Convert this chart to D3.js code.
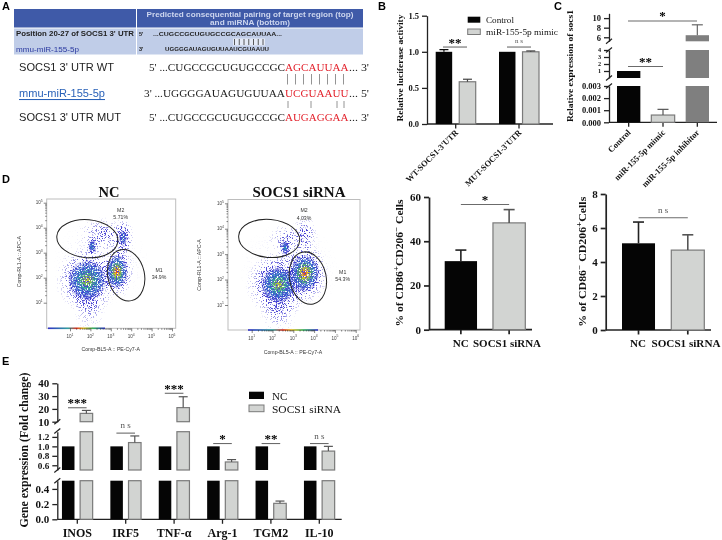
<!DOCTYPE html>
<html><head><meta charset="utf-8">
<script src="https://cdn.jsdelivr.net/npm/d3@7"></script>
<style>
html,body{margin:0;padding:0;background:#fff}
svg{display:block;filter:blur(0.35px)}
text{fill:#111}
</style></head><body>
<svg id="c" width="722" height="540" viewBox="0 0 722 540"></svg>
<script>
// ---------- DATA ----------
const bGroups = ["WT-SOCS1-3'UTR","MUT-SOCS1-3'UTR"];
const bSeries = ["Control","miR-155-5p mimic"];
const bControl = [1.0,1.0], bControlErr = [1.03,1.0];
const bMimic = [0.585,1.0], bMimicErr = [0.62,1.012];
const bTicks = [0,0.5,1,1.5];

const cCats = ["Control","miR-155-5p mimic","miR-155-5p inhibitor"];
const cValues = [1.0,0.0006,6.43];
const cErrs = [1.0,0.00107,8.6];
const cTicksLow = [0,0.001,0.002,0.003], cTicksMid=[1,2,3,4], cTicksTop=[6,8,10];

const dCats = ["NC","SOCS1 siRNA"];
const dM1 = [31,48.3], dM1Err=[36,54.3], dM1Ticks=[0,20,40,60];
const dM2 = [5.1,4.7], dM2Err=[6.35,5.6], dM2Ticks=[0,2,4,6,8];

const eGenes = ["INOS","IRF5","TNF-α","Arg-1","TGM2","IL-10"];
const eNC = [1,1,1,1,1,1];
const eSi = [16.5,1.08,21,0.67,0.21,0.9];
const eSiErr = [18.8,1.22,29.5,0.72,0.24,1.0];
const eSig = ["***","ns","***","*","**","ns"];
const eSigLevel = [20.9,1.28,32.2,1.06,1.06,1.06];
const eTicksLow=[0,0.2,0.4], eTicksMid=[0.6,0.8,1.0,1.2], eTicksTop=[10,20,30,40];

const seqWT = ["5' ...CUGCCGCUGUGCCGC","AGCAUUAA","... 3'"];
const seqMiR = ["3' ...UGGGGAUAGUGUUAA","UCGUAAUU","... 5'"];
const seqMUT = ["5' ...CUGCCGCUGUGCCGC","AUGAGGAA","... 3'"];

// flow clusters: log10 x, log10 y, spread x, spread y (decades), rotation, density, heat level, core fraction
const flowNC = [
 [1.85,1.9,1.6,1.35,0,0.95,2,0.6],
 [1.95,1.2,0.9,1.5,0,0.4,0,0],
 [3.3,2.25,0.85,1.1,0,1,3,0.62],
 [2.1,3.25,0.3,0.4,0,1,1,0.7],
 [3.6,3.6,0.55,0.85,0,0.75,1,0.4],
 [2.6,3.75,1.3,0.7,0,0.42,0,0],
 [2.5,2.6,2.4,1.8,0,0.1,0,0]
];
const flowSi = [
 [2.3,1.8,1.6,1.3,-10,1,2,0.55],
 [2.3,1.0,1.0,1.3,0,0.4,0,0],
 [3.55,2.25,1.15,1.2,0,1,3,0.62],
 [2.6,3.25,0.34,0.42,0,1,1,0.7],
 [3.55,3.75,0.65,0.85,0,0.5,0,0],
 [2.7,3.6,1.0,0.65,0,0.35,0,0],
 [2.8,2.4,2.5,1.9,0,0.08,0,0]
];
const decades=[1,2,3,4,5,6], yDecades=[1,2,3,4,5];

// ---------- HELPERS ----------
const SERIF="'Liberation Serif','Times New Roman',serif", SANS="'Liberation Sans',Arial,sans-serif";
const svg=d3.select("#c");
const defs=svg.append("defs");
const BLACK="#050505", LIGHT="#d2d4d2", EDGE="#7a7a7a", MID="#7f7f7f", LINE="#6b6b6b", AXIS="#222";

function txt(x,y,s,o={}){
  const t=svg.append("text").attr("x",x).attr("y",y).attr("dominant-baseline","central")
    .attr("font-family",o.font||SERIF).attr("font-size",o.size||9).attr("font-weight",o.weight||"normal")
    .attr("text-anchor",o.anchor||"start").style("fill",o.fill||"#111").text(s);
  if(o.len) t.attr("textLength",o.len).attr("lengthAdjust","spacingAndGlyphs");
  if(o.rot!==undefined) t.attr("transform",`rotate(${o.rot} ${x} ${y})`);
  if(o.ul) t.attr("text-decoration","underline");
  return t;
}
function panelLetter(x,y,s){txt(x,y,s,{font:SANS,size:11,weight:"bold",fill:"#000"})}
function seg(domain,range){return d3.scaleLinear().domain(domain).range(range)}
function yAxis(g,scale,ticks,fmt,size,w,sw=1.3){
  const ax=d3.axisLeft(scale).tickValues(ticks).tickFormat(fmt).tickSize(5).tickSizeOuter(0).tickPadding(3);
  const n=g.append("g").attr("transform",`translate(${w},0)`).call(ax);
  n.selectAll("path,line").attr("stroke",AXIS).attr("stroke-width",sw);
  n.selectAll("text").attr("font-family",SERIF).attr("font-size",size).attr("font-weight","bold").style("fill","#111");
}
function baseline(x0,x1,y,ticks,sw=1.3){
  svg.append("line").attr("x1",x0).attr("x2",x1).attr("y1",y).attr("y2",y).attr("stroke",AXIS).attr("stroke-width",sw);
  ticks.forEach(t=>svg.append("line").attr("x1",t).attr("x2",t).attr("y1",y).attr("y2",y+4.5).attr("stroke",AXIS).attr("stroke-width",sw));
}
function slash(x,y){svg.append("line").attr("x1",x-3).attr("x2",x+3).attr("y1",y+2.5).attr("y2",y-2.5).attr("stroke",AXIS).attr("stroke-width",1.2)}
function brokenBar(segs,xl,w,v,fill,stroke){
  segs.forEach(s=>{
    const [d0,d1]=s.domain();
    if(v<=d0) return;
    const top=s(Math.min(v,d1)),bot=s(d0);
    svg.append("rect").attr("x",xl).attr("y",top).attr("width",w).attr("height",bot-top)
      .attr("fill",fill).attr("stroke",stroke).attr("stroke-width",stroke=="none"?0:1.2);
  });
}
function segFor(segs,v){return segs.find(s=>v>=s.domain()[0]&&v<=s.domain()[1])||segs[segs.length-1]}
function errBar(segs,cx,v,e,col,cap,sw=1.2){
  if(e<=v) return;
  const s=segFor(segs,e), y0=segFor(segs,v)(v), y1=s(e);
  svg.append("line").attr("x1",cx).attr("x2",cx).attr("y1",y0).attr("y2",y1).attr("stroke",col).attr("stroke-width",sw);
  svg.append("line").attr("x1",cx-cap).attr("x2",cx+cap).attr("y1",y1).attr("y2",y1).attr("stroke",col).attr("stroke-width",sw);
}
function sig(x0,x1,y,label,nsSize=7,nsUp=8){
  svg.append("line").attr("x1",x0).attr("x2",x1).attr("y1",y).attr("y2",y).attr("stroke",LINE).attr("stroke-width",1.1);
  const cx=(x0+x1)/2;
  if(label=="ns") txt(cx,y-nsUp,"n s",{size:nsSize,anchor:"middle",fill:"#555"});
  else txt(cx,y-5,label,{size:13,weight:"bold",anchor:"middle",fill:"#000"});
}
function legendSwatch(x,y,w,h,fill,stroke){
  svg.append("rect").attr("x",x).attr("y",y).attr("width",w).attr("height",h).attr("fill",fill)
    .attr("stroke",stroke).attr("stroke-width",stroke=="none"?0:1);
}

// ---------- PANEL A ----------
panelLetter(2,6,"A");
svg.append("rect").attr("x",14).attr("y",9).attr("width",349).attr("height",18.5).attr("fill","#3f5aa8");
svg.append("rect").attr("x",14).attr("y",28.5).attr("width",349).attr("height",26).attr("fill","#c0cde8");
svg.append("rect").attr("x",136).attr("y",9).attr("width",1).attr("height",46).attr("fill","#fff");
svg.append("rect").attr("x",233).attr("y",38.5).attr("width",32).attr("height",7).attr("fill","#e4eaf6");
txt(250,14,"Predicted consequential pairing of target region (top)",{font:SANS,size:7.4,weight:"bold",anchor:"middle",fill:"#cdd6ef",len:207});
txt(250,22.5,"and miRNA (bottom)",{font:SANS,size:7.4,weight:"bold",anchor:"middle",fill:"#cdd6ef",len:80});
txt(16,33.5,"Position 20-27 of SOCS1 3' UTR",{font:SANS,size:7,weight:"bold",fill:"#222",len:118});
txt(16,49,"mmu-miR-155-5p",{font:SANS,size:7,fill:"#2b3aa0",len:63});
txt(139,33.5,"5'",{font:SANS,size:5.5,weight:"bold",fill:"#222"});
txt(139,49,"3'",{font:SANS,size:5.5,weight:"bold",fill:"#222"});
txt(153,33.5,"...CUGCCGCUGUGCCGCAGCAUUAA...",{font:SANS,size:5.5,weight:"bold",fill:"#222",len:129});
txt(165,49,"UGGGGAUAGUGUUAAUCGUAAUU",{font:SANS,size:5.5,weight:"bold",fill:"#222",len:104});
d3.range(7).forEach(i=>{const x=234.5+i*4.75;svg.append("line").attr("x1",x).attr("x2",x).attr("y1",39).attr("y2",45).attr("stroke","#333").attr("stroke-width",.8)});

function seqRow(y,label,seq,x0,o){
  txt(19,y,label,{font:SANS,size:10.5,fill:o.fill||"#222",len:o.len,ul:o.ul});
  txt(x0,y,seq[0],{size:10.5,fill:"#222",len:285-x0});
  txt(285,y,seq[1],{size:10.5,fill:"#e3222c",len:63.5});
  txt(349,y,seq[2],{size:10.5,fill:"#222",len:20});
}
seqRow(67,"SOCS1 3' UTR WT",seqWT,149,{len:95});
seqRow(93,"mmu-miR-155-5p",seqMiR,144,{len:86,ul:true,fill:"#2a62b8"});
seqRow(117,"SOCS1 3' UTR MUT",seqMUT,149,{len:102});
d3.range(8).forEach(i=>{const x=287.5+i*8;svg.append("line").attr("x1",x).attr("x2",x).attr("y1",74).attr("y2",84.5).attr("stroke","#888").attr("stroke-width",.9)});
[288,311,337,344].forEach(x=>svg.append("line").attr("x1",x).attr("x2",x).attr("y1",101).attr("y2",108).attr("stroke","#888").attr("stroke-width",.9));

// ---------- PANEL B ----------
panelLetter(378,6,"B");
const by=seg([0,1.5],[124,15.7]);
const bx=d3.scalePoint().domain(bGroups).range([455.7,519]);
const bIn=d3.scaleBand().domain(bSeries).range([-20,20]).paddingInner(.3);
yAxis(svg,by,bTicks,d3.format(".1f"),8.5,427);
baseline(427,553,124,bGroups.map(g=>bx(g)));
bGroups.forEach((g,i)=>{
  const xa=bx(g)+bIn(bSeries[0]), xb=bx(g)+bIn(bSeries[1]), w=bIn.bandwidth();
  brokenBar([by],xa,w,bControl[i],BLACK,"none");
  errBar([by],xa+w/2,bControl[i],bControlErr[i],BLACK,4.5);
  brokenBar([by],xb,w,bMimic[i],LIGHT,EDGE);
  errBar([by],xb+w/2,bMimic[i],bMimicErr[i],"#444",4.5);
  txt(bx(g)+1,131,g,{size:8.5,weight:"bold",anchor:"end",rot:-45});
});
sig(443,467,by(1.066),"**");
sig(507,531,by(1.066),"ns",7,5.6);
txt(400,68,"Relative luciferase activity",{size:8.5,weight:"bold",anchor:"middle",rot:-90,len:107});
legendSwatch(467.7,16.7,12.6,6,BLACK,"none");
legendSwatch(467.7,29,12.6,5.5,LIGHT,EDGE);
txt(486,20,bSeries[0],{size:9,len:28});
txt(486,31.5,bSeries[1],{size:9,len:72});

// ---------- PANEL C ----------
panelLetter(554,6,"C");
const cLow=seg([0,0.003],[122.3,86]), cMid=seg([0,4],[78,50]), cTop=seg([5.16,11],[41.3,13.3]);
const cSegs=[cLow,cMid,cTop];
const cx=d3.scaleBand().domain(cCats).range([617,709]).paddingInner(.32);
yAxis(svg,cLow,cTicksLow,d3.format(".3f"),8.5,609);
yAxis(svg,cMid,cTicksMid,d3.format("d"),6.2,609);
yAxis(svg,cTop,cTicksTop,d3.format("d"),8.5,609);
[86,78,50,41.3].forEach(y=>slash(609,y));
baseline(609,717,122.3,cCats.map(c=>cx(c)+cx.bandwidth()/2));
const cFills=[BLACK,LIGHT,MID], cEdges=["none",EDGE,"none"], cErrCol=[BLACK,"#555","#666"];
cCats.forEach((c,i)=>{
  const segsFor = i==0 ? [cLow,seg([0,1],[78,71])] : (i==1?[cLow]:cSegs);
  brokenBar(segsFor,cx(c),cx.bandwidth(),cValues[i],cFills[i],cEdges[i]);
  errBar(cSegs,cx(c)+cx.bandwidth()/2,cValues[i],cErrs[i],cErrCol[i],5.5);
  txt(cx(c)+cx.bandwidth()/2+0.5,131,c,{size:8.5,weight:"bold",anchor:"end",rot:-45});
});
sig(628,697,cTop(9.4),"*");
sig(628,663,cMid(1.64),"**");
txt(570,66,"Relative expression of socs1",{size:8.5,weight:"bold",anchor:"middle",rot:-90,len:112});

// ---------- PANEL D : flow plots ----------
panelLetter(2,179,"D");
const makeGrad=(id,stops)=>{const g=defs.append("radialGradient").attr("id",id);
  stops.forEach(s=>g.append("stop").attr("offset",s[0]).attr("stop-color",s[1]).attr("stop-opacity",s[2]))};
makeGrad("halo",[[0,"#000",.95],[.25,"#000",.78],[.5,"#000",.42],[.75,"#000",.14],[1,"#000",0]]);
makeGrad("heat1",[[0,"#22a8b0",.9],[.5,"#2a50c8",.8],[1,"#2a22c8",0]]);
makeGrad("heat2",[[0,"#d8d020",1],[.15,"#90c840",1],[.38,"#30b090",.95],[.62,"#2a70c8",.85],[.85,"#2a40c8",.6],[1,"#2a22c8",0]]);
makeGrad("heat3",[[0,"#ee2a18",1],[.12,"#f09018",1],[.25,"#d8d020",1],[.42,"#50b860",.95],[.62,"#2a78c8",.85],[.85,"#2a40c8",.6],[1,"#2a22c8",0]]);
// density speckle: source alpha decides how many noise pixels are switched on
const dens=defs.append("filter").attr("id","grain").attr("x","-5%").attr("y","-5%").attr("width","110%").attr("height","110%").attr("color-interpolation-filters","sRGB");
dens.append("feTurbulence").attr("type","fractalNoise").attr("baseFrequency",.8).attr("numOctaves",2).attr("seed",5).attr("result","n");
dens.append("feColorMatrix").attr("in","n").attr("type","matrix").attr("values","0 0 0 0 0 0 0 0 0 0 0 0 0 0 0 3.2 0 0 0 -1.1").attr("result","m");
dens.append("feComposite").attr("in","SourceAlpha").attr("in2","m").attr("operator","arithmetic").attr("k1",0).attr("k2",1).attr("k3",1).attr("k4",-1).attr("result","d");
dens.append("feComponentTransfer").attr("in","d").attr("result","e").append("feFuncA").attr("type","linear").attr("slope",3);
dens.append("feFlood").attr("flood-color","#4a44d4").attr("result","f");
dens.append("feComposite").attr("in","f").attr("in2","e").attr("operator","in").attr("result","dots");
dens.append("feGaussianBlur").attr("in","dots").attr("stdDeviation",.3);
const gc=defs.append("filter").attr("id","grainCore").attr("x","-5%").attr("y","-5%").attr("width","110%").attr("height","110%").attr("color-interpolation-filters","sRGB");
gc.append("feTurbulence").attr("type","fractalNoise").attr("baseFrequency",.8).attr("numOctaves",2).attr("seed",11).attr("result","n");
gc.append("feColorMatrix").attr("in","n").attr("type","matrix").attr("values","0 0 0 0 0 0 0 0 0 0 0 0 0 0 0 6 0 0 0 -2.4").attr("result","m");
gc.append("feComposite").attr("in","SourceGraphic").attr("in2","m").attr("operator","in").attr("result","dots");
gc.append("feGaussianBlur").attr("in","dots").attr("stdDeviation",.35);
defs.append("linearGradient").attr("id","rainbow").selectAll("stop")
  .data([["0","#3030c8"],[".35","#30a0a0"],[".5","#e03020"],[".62","#e8c020"],[".8","#30b060"],["1","#3030c8"]])
  .join("stop").attr("offset",d=>d[0]).attr("stop-color",d=>d[1]);

function flowPlot(o){
  const {frame,xr,yr,clusters}=o;
  const x=d3.scaleLog().domain([10,1e6]).range(xr), y=d3.scaleLog().domain([10,1e5]).range(yr);
  const dx=(xr[1]-xr[0])/5, dy=(yr[0]-yr[1])/4;
  svg.append("rect").attr("x",frame[0]).attr("y",frame[1]).attr("width",frame[2]-frame[0]).attr("height",frame[3]-frame[1])
    .attr("fill","#fff").attr("stroke","#bdbdbd").attr("stroke-width",1);
  const clip="clip"+o.id;
  defs.append("clipPath").attr("id",clip).append("rect").attr("x",frame[0]).attr("y",frame[1]).attr("width",frame[2]-frame[0]).attr("height",frame[3]-frame[1]);
  const g=svg.append("g").attr("clip-path",`url(#${clip})`);
  const halos=g.append("g").attr("filter","url(#grain)");
  const cores=g.append("g").attr("filter","url(#grainCore)");
  const place=(sel,c,sc)=>sel.attr("cx",0).attr("cy",0).attr("rx",c[2]*dx*sc).attr("ry",c[3]*dy*sc)
     .attr("transform",`translate(${x(10**c[0])},${y(10**c[1])}) rotate(${c[4]})`);
  clusters.forEach(c=>{ place(halos.append("ellipse"),c,1).attr("fill","url(#halo)").attr("opacity",c[5]); });
  clusters.filter(c=>c[6]>0).forEach(c=>{ place(cores.append("ellipse"),c,c[7]).attr("fill",`url(#heat${c[6]})`); });
  svg.append("rect").attr("x",o.strip[0]).attr("y",frame[3]-.8).attr("width",o.strip[1]-o.strip[0]).attr("height",1.6).attr("fill","url(#rainbow)");
  const xa=svg.append("g").attr("transform",`translate(0,${frame[3]})`).call(d3.axisBottom(x).tickValues(decades.map(d=>10**d)).tickFormat("").tickSize(3).tickSizeOuter(0));
  const ya=svg.append("g").attr("transform",`translate(${frame[0]},0)`).call(d3.axisLeft(y).tickValues(yDecades.map(d=>10**d)).tickFormat("").tickSize(3).tickSizeOuter(0));
  const xm=svg.append("g").attr("transform",`translate(0,${frame[3]})`).call(d3.axisBottom(x).tickValues(decades.slice(0,5).flatMap(d=>d3.range(2,10).map(m=>m*10**d))).tickFormat("").tickSize(1.5).tickSizeOuter(0));
  const ym=svg.append("g").attr("transform",`translate(${frame[0]},0)`).call(d3.axisLeft(y).tickValues(yDecades.slice(0,4).flatMap(d=>d3.range(2,10).map(m=>m*10**d))).tickFormat("").tickSize(1.5).tickSizeOuter(0));
  [xa,ya,xm,ym].forEach(a=>{a.select(".domain").remove();a.selectAll("line").attr("stroke","#333").attr("stroke-width",.6)});
  decades.forEach(d=>{
    const t=txt(x(10**d),frame[3]+8,"10",{font:SANS,size:4.6,anchor:"middle",fill:"#444"});
    t.append("tspan").attr("dy",-1.6).attr("font-size",3.4).text(d);
  });
  yDecades.forEach(d=>{
    const t=txt(frame[0]-4,y(10**d),"10",{font:SANS,size:4.6,anchor:"end",fill:"#444"});
    t.append("tspan").attr("dy",-1.6).attr("font-size",3.4).text(d);
  });
  o.gates.forEach(e=>{
    g.append("ellipse").attr("cx",0).attr("cy",0).attr("rx",e[2]*dx).attr("ry",e[3]*dy)
     .attr("transform",`translate(${x(10**e[0])},${y(10**e[1])}) rotate(${e[4]})`)
     .attr("fill","none").attr("stroke","#222").attr("stroke-width",1);
  });
  o.labels.forEach(l=>txt(l[0],l[1],l[2],{font:SANS,size:5.2,anchor:"middle",fill:"#333"}));
  txt(o.xl[0],o.xl[1],"Comp-BL5-A :: PE-Cy7-A",{font:SANS,size:5.2,anchor:"middle",fill:"#333"});
  txt(o.yl[0],o.yl[1],"Comp-RL1-A :: APC-A",{font:SANS,size:5.2,anchor:"middle",fill:"#333",rot:-90});
  txt(o.title[0],o.title[1],o.title[2],{size:14.5,weight:"bold",anchor:"middle",fill:"#111",len:o.title[3]});
}
flowPlot({id:"a",frame:[46.7,199,175.7,328.3],xr:[70,172],yr:[302.7,202.7],clusters:flowNC,strip:[48,105],
  gates:[[1.85,3.56,1.5,0.76,5],[3.75,2.1,0.9,1.04,-12]],
  labels:[[120.7,210,"M2"],[120.7,217,"5.71%"],[159,270,"M1"],[159,277,"34.9%"]],
  xl:[110.7,349],yl:[19,261.7],title:[109,191.7,"NC"]});
flowPlot({id:"b",frame:[228,199.5,360,330],xr:[251.7,355.7],yr:[305,203.3],clusters:flowSi,strip:[248,318],
  gates:[[1.84,3.62,1.47,0.75,5],[3.7,2.06,0.88,1.04,-12]],
  labels:[[304,210,"M2"],[304,218,"4.03%"],[342.7,271.7,"M1"],[342.7,279,"54.3%"]],
  xl:[293,352],yl:[199.3,265],title:[299,191.5,"SOCS1 siRNA",93]});

// ---------- PANEL D : bars ----------
function dBars(o){
  const y=seg(o.domain,[o.y0,o.y1]);
  const x=d3.scaleBand().domain(dCats).range(o.xr).paddingInner(.33);
  yAxis(svg,y,o.ticks,d3.format("d"),11,o.ax,1.7);
  const cen=dCats.map(c=>x(c)+x.bandwidth()/2);
  baseline(o.ax,o.end,o.y0,cen,1.7);
  dCats.forEach((c,i)=>{
    brokenBar([y],x(c),x.bandwidth(),o.vals[i],i?LIGHT:BLACK,i?EDGE:"none");
    errBar([y],cen[i],o.vals[i],o.errs[i],i?"#555":"#222",5.5,1.6);
    txt(o.lx[i],343.7,c,{size:10.5,weight:"bold",anchor:"middle",len:o.lw[i]});
  });
  sig(cen[0],cen[1],y(o.sigY),o.sig,9);
}
dBars({domain:[0,60],y0:329.7,y1:197,xr:[444.7,525.3],ax:429,end:532,ticks:dM1Ticks,vals:dM1,errs:dM1Err,sigY:56.6,sig:"*",lx:[460.7,507],lw:[16,68]});
dBars({domain:[0,8],y0:330,y1:194,xr:[622,704.3],ax:605.7,end:711,ticks:dM2Ticks,vals:dM2,errs:dM2Err,sigY:6.6,sig:"ns",lx:[638,686],lw:[16,69]});
function cdLabel(x,y,parts,len){
  const t=svg.append("text").attr("transform",`translate(${x},${y}) rotate(-90)`).attr("text-anchor","middle")
    .attr("dominant-baseline","central").attr("font-family",SERIF).attr("font-size",10.5).attr("font-weight","bold").style("fill","#111")
    .attr("textLength",len).attr("lengthAdjust","spacingAndGlyphs");
  parts.forEach(p=>{
    const s=t.append("tspan").text(p[0]);
    if(p[1]) s.attr("dy",-3).attr("font-size",8);
    if(p[2]) s.attr("dy",3);
  });
}
cdLabel(399.3,263,[["% of CD86"],["+",1],["CD206",0,1],["−",1],[" Cells",0,1]],127);
cdLabel(581.7,261.7,[["% of CD86"],["−",1],[" CD206",0,1],["+",1],["Cells",0,1]],130);

// ---------- PANEL E ----------
panelLetter(2,361,"E");
const eLow=seg([0,0.508],[519.3,480.7]), eMid=seg([0.5,1.31],[470,431.7]), eTop=seg([10,40],[421.7,383.3]);
const eSegs=[eLow,eMid,eTop];
const eAx=57.3;
yAxis(svg,eLow,eTicksLow,d3.format(".1f"),11,eAx);
yAxis(svg,eMid,eTicksMid,d3.format(".1f"),9.2,eAx);
yAxis(svg,eTop,eTicksTop,d3.format("d"),11,eAx);
[480.7,470,431,421.7].forEach(y=>slash(eAx,y));
const ex=d3.scalePoint().domain(eGenes).range([77.3,319.3]);
const eIn=d3.scaleBand().domain(["NC","SOCS1 siRNA"]).range([-15.35,15.35]).paddingInner(.31);
baseline(eAx,341.7,519.3,eGenes.map(g=>ex(g)));
eGenes.forEach((g,i)=>{
  const c=ex(g), xa=c+eIn("NC"), xb=c+eIn("SOCS1 siRNA"), w=eIn.bandwidth();
  brokenBar(eSegs,xa,w,eNC[i],BLACK,"none");
  brokenBar(eSegs,xb,w,eSi[i],LIGHT,EDGE);
  errBar(eSegs,xb+w/2,eSi[i],eSiErr[i],"#555",4.5);
  sig(c-9.3,c+9.3,segFor(eSegs,eSigLevel[i])(eSigLevel[i]),eSig[i],9);
  txt(c,533,g,{size:12,weight:"bold",anchor:"middle"});
});
txt(24,450,"Gene expression (Fold change)",{size:12,weight:"bold",anchor:"middle",rot:-90,len:155});
legendSwatch(249,391.7,15,7.3,BLACK,"none");
legendSwatch(249,405,15,6.7,LIGHT,EDGE);
txt(272,395.7,"NC",{size:11});
txt(272,408.7,"SOCS1 siRNA",{size:11,len:69});
</script>
</body></html>
